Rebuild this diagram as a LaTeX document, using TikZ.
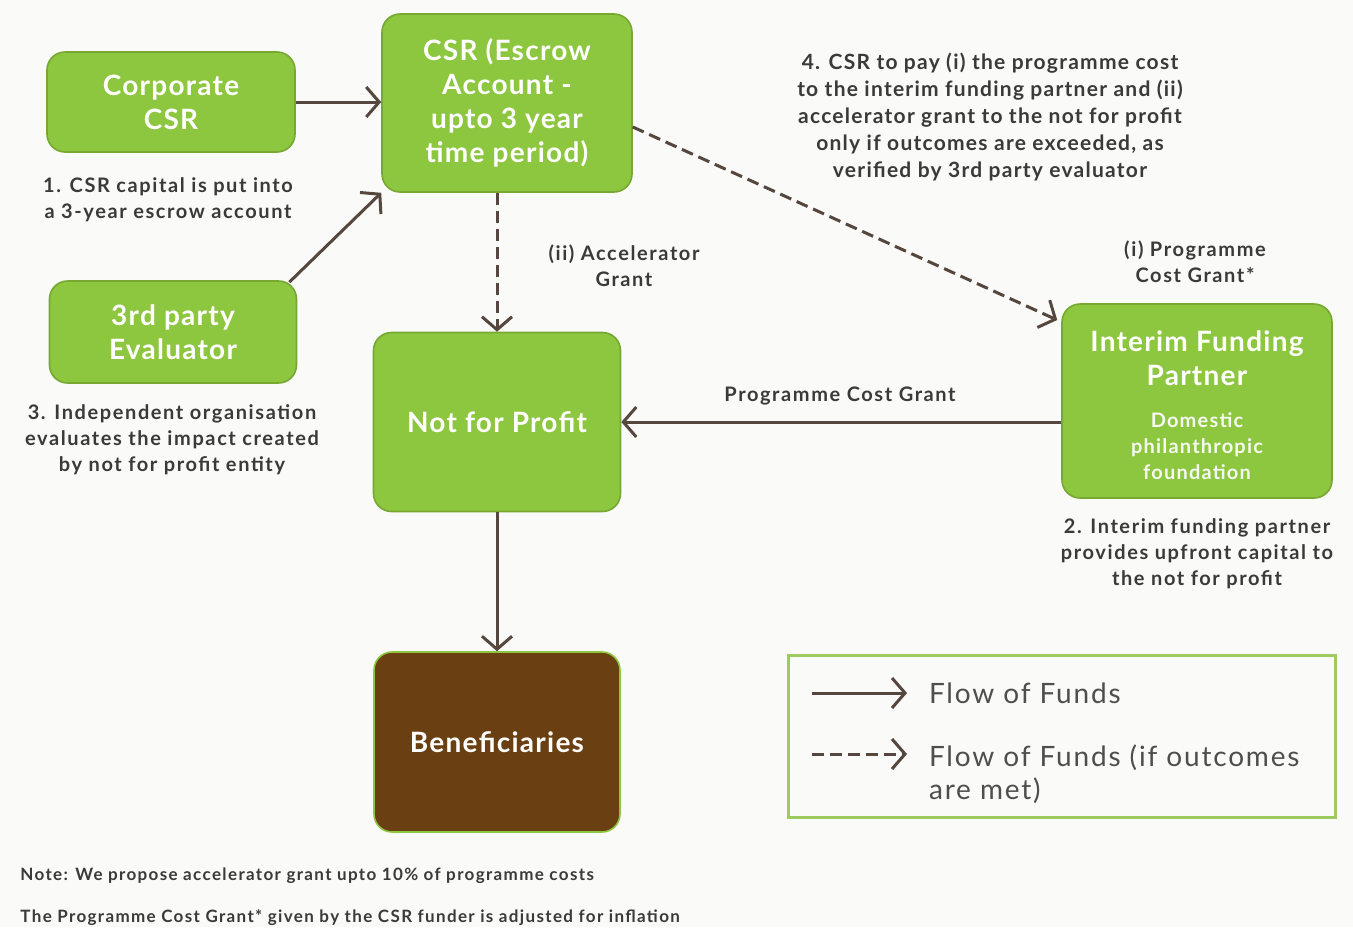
\documentclass[tikz,border=0pt]{standalone}
\usepackage{fontspec}
\setmainfont{Lato}
\usetikzlibrary{arrows.meta}
\definecolor{boxgreen}{HTML}{8DC63F}
\definecolor{boxedge}{HTML}{76A832}
\definecolor{brownbox}{HTML}{6A4013}
\definecolor{arrowc}{HTML}{55463E}
\definecolor{txt}{HTML}{3A3A3A}
\definecolor{bg}{HTML}{FAFAF8}
\definecolor{legedge}{HTML}{9CCB60}
\tikzset{
  gbox/.style={draw=boxedge, line width=0.8pt, fill=boxgreen, rounded corners=9pt,
    text=white, font=\fontsize{14}{17}\selectfont\bfseries\addfontfeature{LetterSpace=4.5}, align=center,
    inner sep=0pt},
  bbox/.style={gbox, fill=brownbox, draw=boxgreen},
  flow/.style={draw=arrowc, line width=1.5pt, -{Straight Barb[length=6.5pt,width=15pt,line width=1.5pt]}},
  dflow/.style={flow, dash pattern=on 6pt off 3pt},
  note/.style={text=txt, font=\fontsize{10}{13}\selectfont\bfseries\addfontfeature{LetterSpace=8}, align=center},
  legtxt/.style={text=txt!90, font=\fontsize{14}{16.5}\selectfont\addfontfeature{LetterSpace=6.5}, align=left, anchor=west},
  footnote/.style={text=txt, font=\fontsize{8.5}{10}\selectfont\bfseries\addfontfeature{LetterSpace=8}, anchor=west, inner sep=0pt},
}
\begin{document}
\begin{tikzpicture}[x=0.5pt,y=-0.5pt]
\fill[bg] (0,0) rectangle (1353,927);
\useasboundingbox (0,0) rectangle (1353,927);

\node[gbox, minimum width=124pt, minimum height=50pt] (corp) at (171,102) {Corporate\\CSR};
\node[gbox, minimum width=125pt, minimum height=89pt] (escrow) at (507,103) {CSR (Escrow\\Account -\\upto 3 year\\time period)};
\node[gbox, minimum width=123.5pt, minimum height=51pt] (eval) at (173,332) {3rd party\\Evaluator};
\node[gbox, minimum width=123.5pt, minimum height=89.5pt] (nfp) at (497,422) {Not for Profit};
\node[gbox, minimum width=135pt, minimum height=97pt] (ifp) at (1197,401) {};
\node[text=white, font=\fontsize{14}{17}\selectfont\bfseries\addfontfeature{LetterSpace=4.5}, align=center] (ifpt) at (1197,358) {Interim Funding\\Partner};
\node[text=white!92!boxgreen, font=\fontsize{10}{13}\selectfont\bfseries\addfontfeature{LetterSpace=6}, align=center] (ifps) at (1197,446) {Domestic\\philanthropic\\foundation};
\node[bbox, minimum width=123pt, minimum height=90pt] (ben) at (497,742) {Beneficiaries};

\draw[flow] (corp.east) -- (escrow.west |- corp.east);
\draw[flow] (eval.north east) ++(-8,2) coordinate (evs) -- (escrow.south west);
\draw[dflow] (escrow.south -| nfp.north) -- (nfp.north);
\draw[dflow] (escrow.east) ++(0,24) coordinate (ess) -- ([xshift=-2pt]ifp.north west |- 0,320) coordinate (ife);
\draw[flow] (ifp.west |- nfp.east) -- (nfp.east);
\draw[flow] (nfp.south) -- (ben.north);

\node[note] (n1) at (168,200) {1. CSR capital is put into\\a 3-year escrow account};
\node[note] (n3) at (172,440) {3. Independent organisation\\evaluates the impact created\\by not for profit entity};
\node[note] (nacc) at (624,266) {(ii) Accelerator\\Grant};
\node[note, font=\fontsize{10.5}{13.5}\selectfont\bfseries\addfontfeature{LetterSpace=6}] (n4) at (990,117) {4. CSR to pay (i) the programme cost\\to the interim funding partner and (ii)\\accelerator grant to the not for profit\\only if outcomes are exceeded, as\\verified by 3rd party evaluator};
\node[note] (npcg) at (1195,262) {(i) Programme\\Cost Grant*};
\node[note] (pcg) at (840,396) {Programme Cost Grant};
\node[note] (n2) at (1197,554) {2. Interim funding partner\\provides upfront capital to\\the not for profit};

\node[draw=legedge, line width=1.5pt, minimum width=273.5pt, minimum height=81pt, inner sep=0pt] (leg) at (1061.5,736) {};
\coordinate (l1a) at (812,693);
\coordinate (l1b) at (907,693);
\coordinate (l2a) at (812,754);
\coordinate (l2b) at (907,754);
\draw[flow] (l1a) -- (l1b);
\draw[dflow] (l2a) -- (l2b);
\node[legtxt] (lt1) at (922,693) {Flow of Funds};
\node[legtxt, anchor=north west] (lt2) at (922,738) {Flow of Funds (if outcomes\\are met)};

\node[footnote] (note1) at (20,876) {Note: We propose accelerator grant upto 10\% of programme costs};
\node[footnote] (note2) at (20,918) {The Programme Cost Grant* given by the CSR funder is adjusted for inflation};
\end{tikzpicture}
\end{document}
